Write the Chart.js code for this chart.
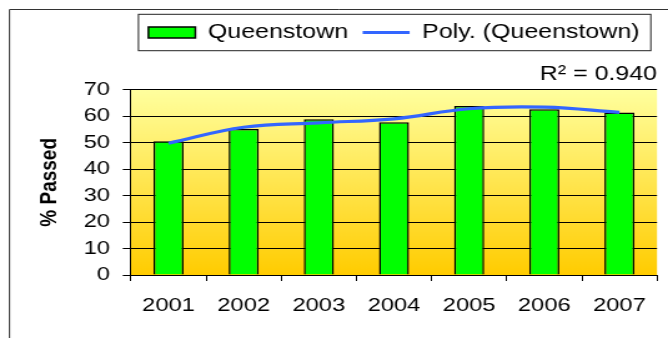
<!DOCTYPE html>
<html>
<head>
<meta charset="utf-8">
<script src="https://cdn.jsdelivr.net/npm/chart.js@4"></script>
<style>
  html, body { margin: 0; padding: 0; background: #fff; overflow: hidden; }
  body { width: 668px; height: 338px; position: relative; }
  /* the chart is laid out narrow and stretched sideways */
  #stretch { position: absolute; left: 0; top: 0; width: 535px; height: 338px; transform: scaleX(1.2486); transform-origin: 0 0; }
</style>
</head>
<body>
<div id="stretch"><canvas id="passChart"></canvas></div>
<script>
const years = ["2001", "2002", "2003", "2004", "2005", "2006", "2007"];
const passed = [50.5, 55.2, 58.8, 57.7, 63.8, 62.6, 61.4];
const trend = [49.8, 55.8, 57.5, 59.0, 62.8, 63.4, 61.4];
const yTicks = [0, 10, 20, 30, 40, 50, 60, 70];
const rSquared = "0.940";

Chart.defaults.font.family = "'Liberation Sans', Arial, sans-serif";
Chart.defaults.color = "#000";

// outer chart border (left and top edges) and the yellow to orange plot fill
const plotBackground = {
    id: "plotBackground",
    beforeDraw(chart) {
        const { ctx, chartArea: a, width, height } = chart;
        ctx.save();
        ctx.strokeStyle = "#333";
        ctx.lineWidth = 1;
        ctx.beginPath();
        ctx.moveTo(7.6, height);
        ctx.lineTo(7.6, 9.5);
        ctx.lineTo(width, 9.5);
        ctx.stroke();

        const g = ctx.createLinearGradient(0, a.top, 0, a.bottom);
        g.addColorStop(0, "#FFFF9E");
        g.addColorStop(1, "#FFCC00");
        ctx.fillStyle = g;
        ctx.fillRect(a.left, a.top, a.right - a.left, a.bottom - a.top);
        ctx.restore();
    }
};

// thin box round the legend
const legendFrame = {
    id: "legendFrame",
    afterDraw(chart) {
        const hb = chart.legend.legendHitBoxes;
        if (!hb || !hb.length) return;
        const first = hb[0];
        const last = hb[hb.length - 1];
        const mid = first.top + first.height / 2;
        const left = first.left - 8;
        const right = last.left + last.width + 9;
        const ctx = chart.ctx;
        ctx.save();
        ctx.strokeStyle = "#222";
        ctx.lineWidth = 1;
        ctx.strokeRect(left, mid - 18.2, right - left, 36.4);
        ctx.restore();
    }
};

new Chart(document.getElementById("passChart"), {
    type: "bar",
    data: {
        labels: years,
        datasets: [
            {
                type: "bar",
                label: "Queenstown",
                data: passed,
                backgroundColor: "#00FF00",
                borderColor: "#000",
                borderWidth: 1.5,
                barPercentage: 0.5,
                categoryPercentage: 0.8,
                pointStyle: "rect",
                order: 1
            },
            {
                type: "line",
                label: "Poly. (Queenstown)",
                data: trend,
                borderColor: "#3366FF",
                borderWidth: 3.2,
                pointRadius: 0,
                tension: 0.4,
                fill: false,
                pointStyle: "line",
                order: 0
            }
        ]
    },
    options: {
        responsive: true,
        maintainAspectRatio: false,
        animation: false,
        layout: { padding: { top: 10.8, right: 8.8, bottom: 8.2, left: 0 } },
        plugins: {
            tooltip: { enabled: false },
            legend: {
                position: "top",
                fullSize: false,
                labels: {
                    usePointStyle: true,
                    pointStyleWidth: 37.6,
                    boxHeight: 11,
                    padding: 11.7,
                    font: { size: 20 },
                    sort: (a, b) => a.datasetIndex - b.datasetIndex
                }
            },
            title: {
                display: true,
                text: "R\u00B2 = " + rSquared,
                position: "top",
                align: "end",
                fullSize: false,
                weight: 500,
                font: { size: 20, weight: "normal" },
                padding: { top: 10, bottom: 3.2 }
            }
        },
        scales: {
            x: {
                grid: { drawOnChartArea: false, drawTicks: true, tickLength: 6, color: "#000" },
                border: { color: "#000", width: 1 },
                ticks: { font: { size: 19 }, padding: 13 }
            },
            y: {
                min: yTicks[0],
                max: yTicks[yTicks.length - 1],
                afterFit: (scale) => { scale.width = 104.9; },
                afterBuildTicks: (scale) => { scale.ticks = yTicks.map(v => ({ value: v })); },
                grid: { color: "#000", tickLength: 6.6, lineWidth: 1 },
                border: { color: "#000", width: 1 },
                ticks: { font: { size: 19 }, padding: 10.2, autoSkip: false },
                title: {
                    display: true,
                    text: "% Passed",
                    font: { size: 19, weight: "bold" },
                    padding: { top: 28.6, bottom: 0 }
                }
            }
        }
    },
    plugins: [plotBackground, legendFrame]
});
</script>
</body>
</html>
